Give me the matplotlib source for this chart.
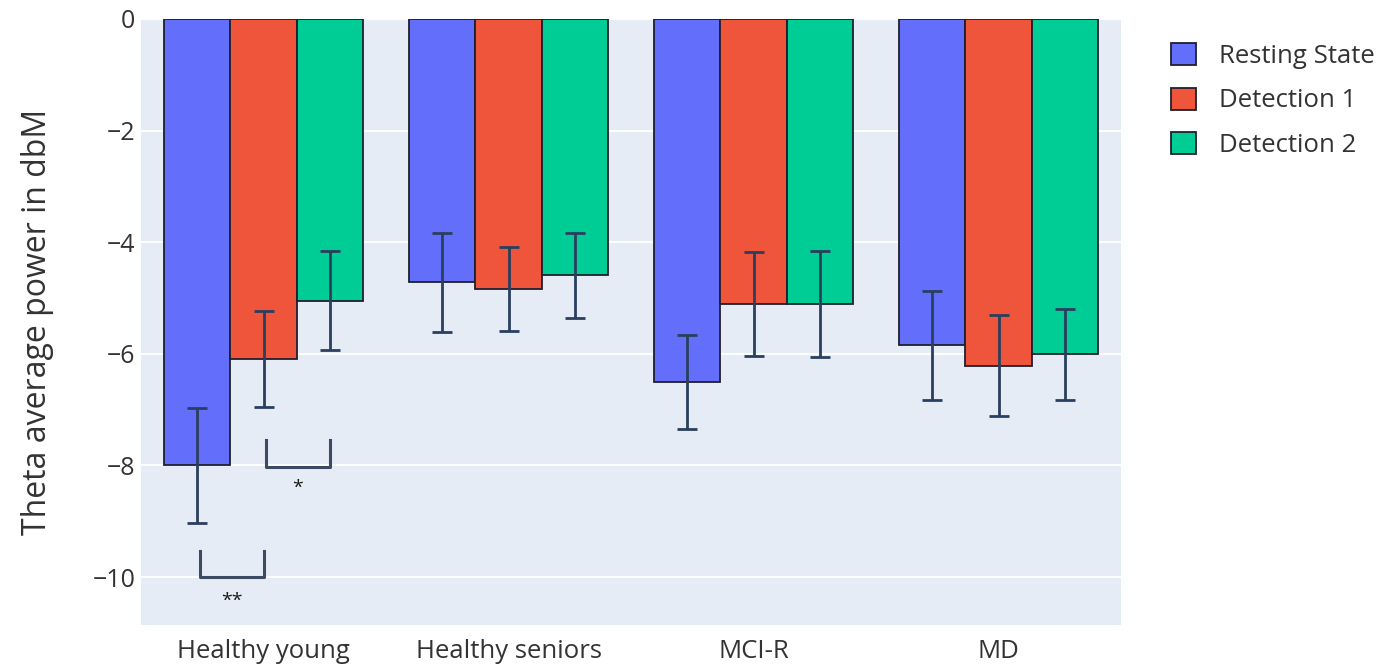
import numpy as np
import matplotlib
matplotlib.use("Agg")
import matplotlib.pyplot as plt
from matplotlib.patches import Patch

plt.rcParams['font.family'] = ['Open Sans', 'DejaVu Sans']

categories = ["Healthy young", "Healthy seniors", "MCI-R", "MD"]
series_names = ["Resting State", "Detection 1", "Detection 2"]
resting = [-8.0, -4.72, -6.50, -5.85]
resting_err = [1.03, 0.89, 0.84, 0.98]
detect1 = [-6.10, -4.84, -5.11, -6.21]
detect1_err = [0.86, 0.76, 0.93, 0.90]
detect2 = [-5.05, -4.59, -5.11, -6.01]
detect2_err = [0.89, 0.76, 0.95, 0.81]
colors = ["#636EFA", "#EF553B", "#00CC96"]
yticks = [0, -2, -4, -6, -8, -10]

# significance brackets: (category index, series a, series b, top y, bottom y, label, label y)
sig_cat = [0, 0]
sig_a = [0, 1]
sig_b = [1, 2]
sig_top = [-9.53, -7.55]
sig_bottom = [-10.0, -8.03]
sig_label = ["**", "*"]
sig_label_y = [-10.42, -8.40]

fig = plt.figure(figsize=(13.9, 6.71), dpi=100)
ax = fig.add_axes([141/1390, 1-625/671, (1121-141)/1390, (625-19)/671])
ax.set_facecolor("#E5ECF6")

x = np.arange(len(categories))
n = 3
group_w = 0.81
bw = group_w / n
offsets = (np.arange(n) - (n - 1) / 2) * bw
vals = [resting, detect1, detect2]
errs = [resting_err, detect1_err, detect2_err]

for i in range(n):
    ax.bar(x + offsets[i], vals[i], width=bw, color=colors[i],
           edgecolor="#1f1f2e", linewidth=1.3, zorder=2, label=series_names[i])
    ax.errorbar(x + offsets[i], vals[i], yerr=errs[i], fmt="none",
                ecolor="#2a3f5f", elinewidth=2.0, capsize=7, capthick=2.0, zorder=3)

for k in range(len(sig_cat)):
    xa = sig_cat[k] + offsets[sig_a[k]] + 0.01
    xb = sig_cat[k] + offsets[sig_b[k]]
    ax.plot([xa, xa, xb, xb], [sig_top[k], sig_bottom[k], sig_bottom[k], sig_top[k]],
            color="#3d4a63", linewidth=2.2, zorder=4, solid_joinstyle="round")
    ax.text((xa + xb) / 2, sig_label_y[k], sig_label[k], ha="center", va="center",
            fontsize=14, color="#1a1a1a", zorder=4)

ax.set_xlim(-0.5, len(categories) - 0.5)
ax.set_ylim(-10.86, 0)
ax.set_yticks(yticks)
ax.set_yticklabels([str(t).replace("-", "\u2212") for t in yticks])
ax.set_xticks(x)
ax.set_xticklabels(categories)
ax.grid(axis="y", color="white", linewidth=1.3, zorder=0)
ax.set_axisbelow(True)
for s in ax.spines.values():
    s.set_visible(False)
ax.tick_params(axis="both", length=0, colors="#333333")
ax.tick_params(axis="x", pad=10, labelsize=18.5)
ax.tick_params(axis="y", pad=4, labelsize=18)
ax.set_ylabel("Theta average power in dbM", fontsize=23, color="#333333", labelpad=28)

handles = [Patch(facecolor=colors[i], edgecolor="#1f1f2e", linewidth=1.3, label=series_names[i])
           for i in range(n)]
fig.legend(handles=handles, loc="upper left", bbox_to_anchor=(1148/1390, 1-20/671),
           frameon=False, fontsize=18.5, handlelength=0.95, handleheight=0.95,
           handletextpad=0.9, labelspacing=0.72, labelcolor="#333333")

fig.savefig("out.png", dpi=100, facecolor="white")
